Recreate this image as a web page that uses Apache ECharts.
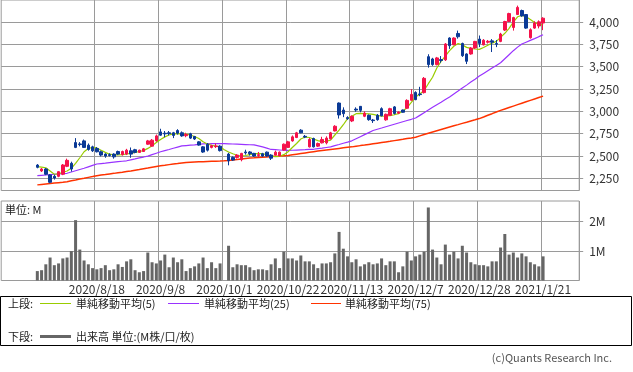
<!DOCTYPE html>
<html><head><meta charset="utf-8">
<script src="https://cdn.jsdelivr.net/npm/echarts@6/dist/echarts.min.js"></script>
<style>html,body{margin:0;padding:0;background:#fff;}#c{width:633px;height:372px;}</style>
</head><body><div id="c"></div>
<script>
const dates = ['2020/7/28','2020/7/29','2020/7/30','2020/7/31','2020/8/3','2020/8/4','2020/8/5','2020/8/6','2020/8/7','2020/8/11',
'2020/8/12','2020/8/13','2020/8/14','2020/8/17','2020/8/18','2020/8/19','2020/8/20','2020/8/21','2020/8/24','2020/8/25',
'2020/8/26','2020/8/27','2020/8/28','2020/8/31','2020/9/1','2020/9/2','2020/9/3','2020/9/4','2020/9/7','2020/9/8',
'2020/9/9','2020/9/10','2020/9/11','2020/9/14','2020/9/15','2020/9/16','2020/9/17','2020/9/18','2020/9/23','2020/9/24',
'2020/9/25','2020/9/28','2020/9/29','2020/9/30','2020/10/1','2020/10/2','2020/10/5','2020/10/6','2020/10/7','2020/10/8',
'2020/10/9','2020/10/12','2020/10/13','2020/10/14','2020/10/15','2020/10/16','2020/10/19','2020/10/20','2020/10/21','2020/10/22',
'2020/10/23','2020/10/26','2020/10/27','2020/10/28','2020/10/29','2020/10/30','2020/11/2','2020/11/4','2020/11/5','2020/11/6',
'2020/11/9','2020/11/10','2020/11/11','2020/11/12','2020/11/13','2020/11/16','2020/11/17','2020/11/18','2020/11/19','2020/11/20',
'2020/11/24','2020/11/25','2020/11/26','2020/11/27','2020/11/30','2020/12/1','2020/12/2','2020/12/3','2020/12/4','2020/12/7',
'2020/12/8','2020/12/9','2020/12/10','2020/12/11','2020/12/14','2020/12/15','2020/12/16','2020/12/17','2020/12/18','2020/12/21',
'2020/12/22','2020/12/23','2020/12/24','2020/12/25','2020/12/28','2020/12/29','2020/12/30','2021/1/4','2021/1/5','2021/1/6',
'2021/1/7','2021/1/8','2021/1/12','2021/1/13','2021/1/14','2021/1/15','2021/1/18','2021/1/19','2021/1/20','2021/1/21'];

const opens = [2398,2332,2354,2287,2272,2272,2295,2384,2418,2650,
2635,2669,2621,2602,2584,2547,2521,2515,2521,2550,
2515,2521,2558,2570,2540,2550,2632,2610,2669,2770,
2755,2760,2760,2785,2760,2727,2748,2718,2658,2602,
2632,2596,2605,2610,null,2521,2484,2484,2458,2545,
2545,2529,2505,2525,2543,2510,2510,2500,2566,2596,
2669,2707,2789,2720,2602,2696,2610,2647,2647,2692,
2781,3093,3015,2930,2892,3025,3056,2945,2956,2903,
2956,3030,2905,2956,3050,2980,3015,3035,3125,3212,
3195,3210,3613,3587,3524,3580,3577,3822,3747,3873,
3761,3643,3643,3710,3810,3745,3775,3790,3760,3784,
3911,4007,3940,4085,4130,4085,3825,3933,3957,3990];
const closes = [2373,2354,2295,2205,2253,2324,2399,2451,2354,2596,
2628,2596,2573,2558,2547,2510,2499,2505,2490,2521,
2550,2565,2521,2540,2565,2580,2669,2677,2725,2733,
2748,2750,2730,2755,2725,2740,2700,2690,2622,2544,
2565,2615,2612,2560,null,2446,2454,2510,2529,2535,
2525,2499,2515,2499,2499,2475,2543,2543,2632,2658,
2714,2759,2759,2712,2685,2602,2640,2685,2700,2759,
2833,2960,2974,2918,2945,3015,3011,2980,2907,2896,
2907,2950,2967,3030,2976,2992,2990,3123,3190,3131,
3188,3370,3524,3524,3599,3570,3755,3736,3822,3836,
3624,3561,3710,3784,3761,3797,3785,3775,3752,3866,
4007,4096,4051,4165,4070,3933,3915,3990,4003,4044];
const highs = [2409,2365,2365,2295,2290,2330,2410,2470,2436,2700,
2655,2684,2640,2615,2600,2560,2530,2530,2530,2560,
2560,2580,2595,2580,2570,2590,2680,2690,2740,2805,
2780,2780,2770,2800,2775,2760,2760,2725,2665,2610,
2645,2625,2640,2620,null,2535,2495,2520,2535,2570,
2555,2535,2545,2535,2550,2520,2560,2550,2640,2670,
2730,2770,2800,2735,2700,2705,2650,2715,2720,2770,
2845,3100,3045,2945,2955,3045,3060,3000,2965,2915,
2970,3045,2975,3040,3060,3000,3020,3135,3250,3225,
3275,3385,3640,3600,3610,3620,3765,3830,3830,3905,
3770,3650,3720,3790,3850,3810,3800,3810,3800,3880,
4015,4105,4060,4185,4140,4090,3930,4010,4020,4055];
const lows = [2362,2320,2285,2194,2235,2262,2285,2375,2325,2588,
2608,2590,2560,2545,2540,2495,2480,2495,2470,2510,
2505,2510,2480,2530,2535,2545,2625,2605,2660,2725,
2710,2730,2700,2740,2715,2710,2690,2680,2615,2535,
2550,2585,2590,2550,null,2395,2445,2470,2440,2515,
2505,2490,2485,2490,2490,2455,2505,2495,2560,2590,
2660,2700,2755,2700,2595,2595,2600,2640,2630,2685,
2775,2919,2935,2905,2880,2995,2990,2935,2895,2870,
2895,2945,2895,2950,2965,2970,2985,3030,3120,3125,
3170,3200,3490,3510,3515,3545,3565,3700,3740,3815,
3610,3530,3635,3700,3720,3740,3760,3665,3720,3775,
3900,4000,3905,4080,4060,3925,3815,3925,3930,3910];

const ma5 = [2380,2375,2368,2332,2295,2300,2317,2332,2362,2418,
2480,2547,2584,2596,2590,2565,2540,2520,2512,2512,
2516,2522,2530,2540,2550,2560,2585,2615,2650,2685,
2714,2735,2748,2750,2748,2745,2735,2718,2695,2660,
2635,2620,2610,2602,2570,2545,2525,2508,2500,2505,
2515,2525,2528,2525,2515,2500,2493,2495,2515,2547,
2595,2640,2690,2712,2707,2690,2672,2660,2665,2677,
2735,2789,2850,2919,2945,2974,2978,2975,2972,2966,
2955,2945,2948,2952,2962,2974,3005,3041,3100,3160,
3195,3234,3310,3382,3486,3560,3620,3680,3730,3761,
3745,3717,3705,3699,3695,3715,3740,3765,3784,3829,
3875,3930,4000,4060,4075,4060,4030,3996,3975,3970];
const ma25 = [2279,2283,2287,2291,2295,2299,2302,2306,2320,2334,
2348,2362,2378,2394,2410,2415,2420,2426,2431,2436,
2441,2446,2457,2467,2478,2488,2499,2515,2531,2547,
2560,2573,2587,2600,2613,2617,2621,2625,2630,2636,
2637,2638,2639,2640,2638,2636,2634,2632,2630,2628,
2626,2625,2614,2602,2588,2573,2570,2567,2564,2562,
2564,2566,2568,2570,2573,2575,2582,2588,2595,2602,
2616,2629,2643,2656,2670,2693,2716,2739,2762,2785,
2799,2813,2828,2842,2856,2870,2884,2898,2911,2925,
2955,2985,3015,3045,3075,3103,3132,3160,3194,3227,
3261,3294,3328,3361,3395,3425,3455,3485,3515,3545,
3590,3635,3680,3720,3755,3775,3795,3815,3837,3858];
const ma75 = [2176,2181,2186,2191,2196,2201,2206,2212,2222,2231,
2241,2250,2260,2269,2279,2286,2292,2299,2305,2312,
2318,2325,2332,2340,2348,2357,2365,2374,2382,2390,
2396,2403,2409,2415,2422,2428,2430,2432,2434,2436,
2438,2440,2442,2443,2446,2450,2455,2460,2466,2471,
2476,2479,2483,2486,2489,2493,2496,2499,2503,2506,
2513,2520,2527,2534,2541,2548,2555,2561,2567,2573,
2579,2585,2591,2597,2602,2609,2616,2622,2629,2636,
2643,2650,2657,2664,2672,2680,2687,2695,2702,2710,
2725,2740,2754,2768,2782,2796,2810,2824,2838,2851,
2865,2878,2892,2905,2919,2937,2956,2974,2993,3011,
3027,3043,3059,3075,3091,3107,3123,3139,3155,3171];

const volumes = [0.32,0.35,0.55,0.78,0.52,0.58,0.75,0.78,1.0,2.05,
1.05,0.68,0.55,0.42,0.38,0.42,0.52,0.35,0.38,0.55,
0.46,0.65,0.72,0.35,0.28,0.32,0.95,0.62,0.58,0.68,
0.88,0.45,0.78,0.62,0.72,0.32,0.42,0.48,0.58,0.78,
0.42,0.62,0.42,0.58,null,1.18,0.45,0.55,0.52,0.52,
0.45,0.35,0.38,0.38,0.35,0.55,0.75,0.42,0.98,0.75,
0.75,0.68,0.85,0.65,0.65,0.55,0.42,0.58,0.58,0.62,
0.92,1.65,1.08,0.82,0.62,0.72,0.48,0.55,0.62,0.55,
0.58,0.75,0.52,0.65,0.65,0.28,0.48,0.98,0.68,0.82,
0.88,0.98,2.48,1.05,0.78,0.55,1.22,0.88,0.98,0.75,
1.18,0.95,0.62,0.55,0.52,0.52,0.48,0.65,0.65,1.12,
1.58,0.88,0.95,0.78,0.92,0.82,0.62,0.55,0.48,0.82];

const priceTicks = [2250,2500,2750,3000,3250,3500,3750,4000];
const volTicks = [1,2];
const legendLabels = ['単純移動平均(5)','単純移動平均(25)','単純移動平均(75)'];
const volLegendLabel = '出来高 単位:(M株/口/枚)';

const PAD = 8;
const cats = [];
for (let i = 0; i < PAD; i++) cats.push('pre' + i);
dates.forEach(d => cats.push(d));
for (let i = 0; i < PAD; i++) cats.push('post' + i);
const pad = arr => { const a = []; for (let i = 0; i < PAD; i++) a.push('-'); arr.forEach(v => a.push(v == null ? '-' : v)); for (let i = 0; i < PAD; i++) a.push('-'); return a; };

const candleData = [];
for (let i = 0; i < PAD; i++) candleData.push('-');
dates.forEach((d, i) => candleData.push(opens[i] == null ? '-' : [opens[i], closes[i], lows[i], highs[i]]));
for (let i = 0; i < PAD; i++) candleData.push('-');

const showIdx = idx => { const d = idx - PAD; return d >= 0 && d < dates.length && d % 15 === 14; };
const FONT = 'Noto Sans CJK JP';
const GRID_C = '#9a9a9a';

const chart = echarts.init(document.getElementById('c'), null, {renderer: 'canvas'});
chart.setOption({
  animation: false,
  backgroundColor: '#fff',
  textStyle: {fontFamily: FONT},
  grid: [
    {left: 1.2, width: 578, top: -1, height: 191.5, show: true, borderColor: GRID_C, borderWidth: 1, backgroundColor: 'transparent'},
    {left: 1.2, width: 578, top: 201, height: 79.5, show: true, borderColor: GRID_C, borderWidth: 1, backgroundColor: 'transparent'}
  ],
  xAxis: [
    {type: 'category', gridIndex: 0, data: cats, boundaryGap: true,
     axisLine: {show: false}, axisTick: {show: false}, axisLabel: {show: false},
     splitLine: {show: true, interval: showIdx, lineStyle: {color: GRID_C, width: 1}}},
    {type: 'category', gridIndex: 1, data: cats, boundaryGap: true,
     axisLine: {show: false}, axisTick: {show: false},
     axisLabel: {show: true, interval: showIdx, margin: 3, fontSize: 12, color: '#333', fontFamily: FONT},
     splitLine: {show: true, interval: showIdx, lineStyle: {color: GRID_C, width: 1}}}
  ],
  yAxis: [
    {type: 'value', gridIndex: 0, position: 'right', min: 2113, max: 4248, scale: true,
     axisLine: {show: false},
     axisTick: {show: true, inside: false, length: 4, customValues: priceTicks, lineStyle: {color: GRID_C}},
     axisLabel: {show: true, customValues: priceTicks, margin: 10, fontSize: 12, color: '#333', fontFamily: FONT,
       formatter: v => v.toLocaleString('en-US')},
     splitLine: {show: true, lineStyle: {color: GRID_C, width: 1}}},
    {type: 'value', gridIndex: 1, position: 'right', min: 0, max: 2.7,
     axisLine: {show: false},
     axisTick: {show: true, inside: false, length: 4, customValues: volTicks, lineStyle: {color: GRID_C}},
     axisLabel: {show: true, customValues: volTicks, margin: 10, fontSize: 12, color: '#333', fontFamily: FONT,
       formatter: v => v + 'M'},
     splitLine: {show: true, lineStyle: {color: GRID_C, width: 1}}}
  ],
  series: [
    {type: 'line', name: legendLabels[2], xAxisIndex: 0, yAxisIndex: 0, data: pad(ma75), symbol: 'none',
     lineStyle: {color: '#ff3300', width: 1.5}, z: 2},
    {type: 'line', name: legendLabels[1], xAxisIndex: 0, yAxisIndex: 0, data: pad(ma25), symbol: 'none',
     lineStyle: {color: '#9933ff', width: 1.2}, z: 2},
    {type: 'line', name: legendLabels[0], xAxisIndex: 0, yAxisIndex: 0, data: pad(ma5), symbol: 'none',
     lineStyle: {color: '#99cc00', width: 1.2}, z: 2},
    {type: 'candlestick', xAxisIndex: 0, yAxisIndex: 0, data: candleData, barWidth: 3,
     itemStyle: {color: '#f5124a', color0: '#0b3a96', borderColor: '#f5124a', borderColor0: '#0b3a96', borderWidth: 1}, z: 3},
    {type: 'bar', xAxisIndex: 1, yAxisIndex: 1, data: pad(volumes), barWidth: 3,
     itemStyle: {color: '#666666'}}
  ],
  graphic: [
    {type: 'text', left: 5, top: 204, style: {text: '単位: M', font: '11px "Noto Sans CJK JP"', fill: '#222'}},
    {type: 'rect', shape: {x: 0.5, y: 296.5, width: 631, height: 49}, style: {fill: 'none', stroke: '#000', lineWidth: 1}},
    {type: 'text', x: 8, y: 304, style: {text: '上段:', font: '11px "Noto Sans CJK JP"', fill: '#222', verticalAlign: 'middle'}},
    {type: 'line', shape: {x1: 40, y1: 303.5, x2: 71, y2: 303.5}, style: {stroke: '#99cc00', lineWidth: 1}},
    {type: 'text', x: 76, y: 304, style: {text: legendLabels[0], font: '11px "Noto Sans CJK JP"', fill: '#222', verticalAlign: 'middle'}},
    {type: 'line', shape: {x1: 168, y1: 303.5, x2: 199, y2: 303.5}, style: {stroke: '#9933ff', lineWidth: 1}},
    {type: 'text', x: 204, y: 304, style: {text: legendLabels[1], font: '11px "Noto Sans CJK JP"', fill: '#222', verticalAlign: 'middle'}},
    {type: 'line', shape: {x1: 311, y1: 303.5, x2: 341, y2: 303.5}, style: {stroke: '#ff3300', lineWidth: 1}},
    {type: 'text', x: 345, y: 304, style: {text: legendLabels[2], font: '11px "Noto Sans CJK JP"', fill: '#222', verticalAlign: 'middle'}},
    {type: 'text', x: 8, y: 336.5, style: {text: '下段:', font: '11px "Noto Sans CJK JP"', fill: '#222', verticalAlign: 'middle'}},
    {type: 'line', shape: {x1: 40, y1: 336.5, x2: 71, y2: 336.5}, style: {stroke: '#666666', lineWidth: 3}},
    {type: 'text', x: 76, y: 336.5, style: {text: volLegendLabel, font: '11px "Noto Sans CJK JP"', fill: '#222', verticalAlign: 'middle'}},
    {type: 'text', x: 612, y: 358, style: {text: '(c)Quants Research Inc.', font: '11px "Noto Sans CJK JP"', fill: '#555', align: 'right', verticalAlign: 'middle'}}
  ]
});
</script></body></html>
